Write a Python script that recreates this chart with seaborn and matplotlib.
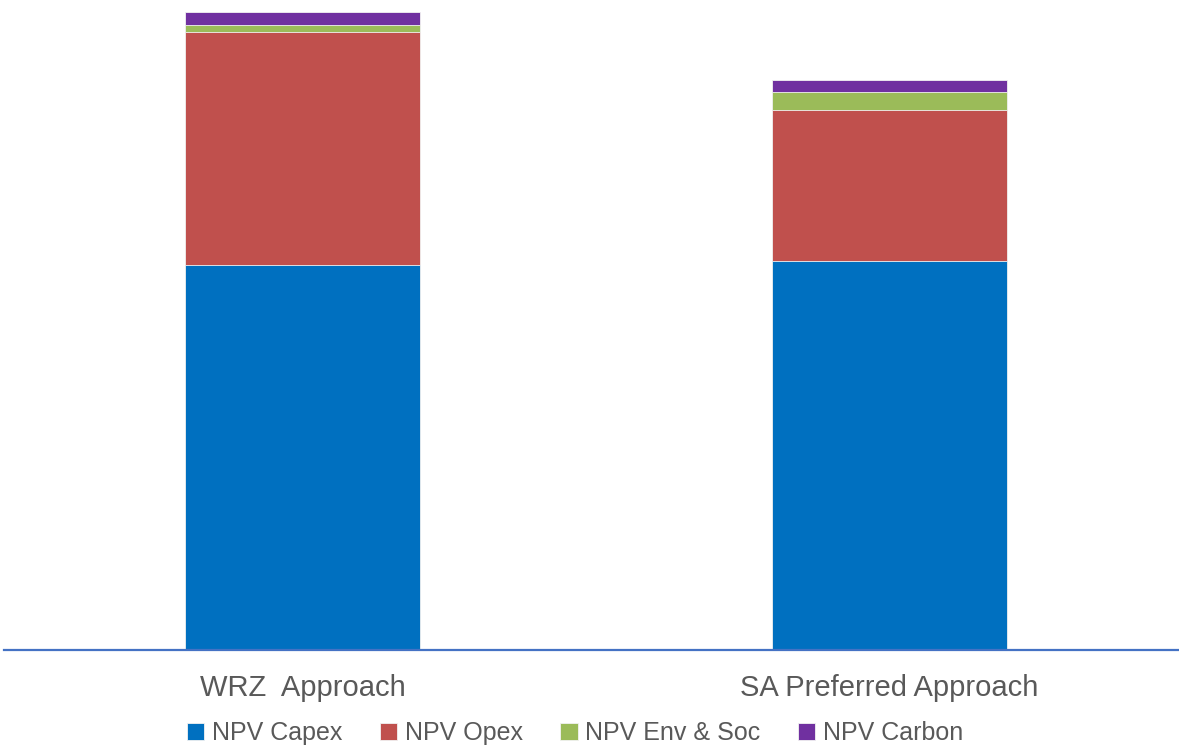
import numpy as np
import pandas as pd
import matplotlib.pyplot as plt
import seaborn as sns

# values (relative units)
approaches = ['WRZ  Approach', 'SA Preferred Approach']
npv_capex = [385, 389]
npv_opex = [233, 151]
npv_env_soc = [7, 18]
npv_carbon = [13, 12]

series = ['NPV Capex', 'NPV Opex', 'NPV Env & Soc', 'NPV Carbon']
colors = ['#0070C0', '#C0504D', '#9BBB59', '#7030A0']

df = pd.DataFrame({'approach': approaches, 'NPV Capex': npv_capex, 'NPV Opex': npv_opex,
                   'NPV Env & Soc': npv_env_soc, 'NPV Carbon': npv_carbon})
cum = df[series].cumsum(axis=1)
cum['approach'] = df['approach']

sns.set_style('white')
plt.rcParams['font.family'] = ['Liberation Sans', 'DejaVu Sans']

fig = plt.figure(figsize=(11.79, 7.46), dpi=100)
ax = fig.add_axes([4/1179, 96/746, 1175/1179, 650/746])

# stacked bars: draw cumulative totals from the top segment down
for name, col in reversed(list(zip(series, colors))):
    sns.barplot(data=cum, x='approach', y=name, color=col, width=0.4, ax=ax,
                saturation=1, edgecolor='#f2f2f2', linewidth=0.6, label=name)

ax.set_xlim(-0.5085, 1.493)
ax.set_ylim(0, 650)
ax.set_xlabel('')
ax.set_ylabel('')
ax.set_yticks([])
ax.tick_params(axis='x', length=0, pad=17, labelsize=21, labelcolor='#595959')
for s in ['top', 'right', 'left']:
    ax.spines[s].set_visible(False)
ax.spines['bottom'].set_color('#4472C4')
ax.spines['bottom'].set_linewidth(1.6)

h, l = ax.get_legend_handles_labels()
order = [l.index(s) for s in series]
if ax.get_legend():
    ax.get_legend().remove()
fig.legend([h[i] for i in order], series, loc='center', bbox_to_anchor=(0.4877, 1 - 733/746),
           ncol=4, frameon=False, fontsize=18, labelcolor='#595959',
           handlelength=0.7, handleheight=0.7, handletextpad=0.3, columnspacing=1.5)

plt.savefig('out.png', dpi=100)
